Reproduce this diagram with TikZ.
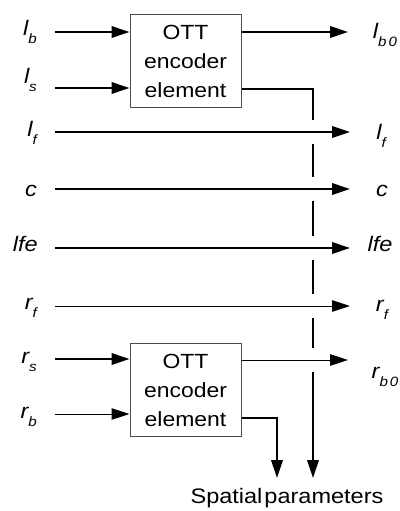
\documentclass[tikz,border=0pt]{standalone}
\usepackage{fontspec}
\setmainfont[FakeStretch=1.12]{Liberation Sans}
\usetikzlibrary{arrows.meta,calc}

% signal name with a lowered subscript
\newcommand{\sig}[2]{\textit{#1}\raisebox{-8pt}{\fontsize{13.5}{14}\selectfont\textit{#2}}}

\begin{document}
\begin{tikzpicture}[x=1pt,y=-1pt,
  sigfont/.style={font=\fontsize{21}{24}\selectfont\itshape, inner sep=0pt},
  leftlab/.style={sigfont, anchor=base east},
  rightlab/.style={sigfont, anchor=base},
  ottbox/.style={draw=black!70, line width=1pt, minimum width=111pt,
    minimum height=93pt, inner sep=0pt, align=center,
    font=\fontsize{20.5}{29}\selectfont},
  tip/.style={-{Triangle[length=18pt,width=11.5pt]}},
  heavy/.style={line width=2pt},
  light/.style={line width=1pt},
]
\useasboundingbox (0,0) rectangle (399,511);

% encoder elements
\node[ottbox] (ott1) at (185.5,61) {OTT\\encoder\\element};
\node[ottbox] (ott2) at (185.5,390) {OTT\\encoder\\element};

% input labels
\node[leftlab] (lb)  at (37,36)  {\sig{l}{b}};
\node[leftlab] (ls)  at (37,83)  {\sig{l}{s}};
\node[leftlab] (lf)  at (37,136) {\sig{l}{f}};
\node[leftlab] (c)   at (37,196) {c};
\node[leftlab] (lfe) at (38,251) {lfe};
\node[leftlab] (rf)  at (37,309) {\sig{r}{f}};
\node[leftlab] (rs)  at (37,363) {\sig{r}{s}};
\node[leftlab] (rb)  at (37,418) {\sig{r}{b}};

% output labels
\node[rightlab] (lbo)  at (385,39)  {\sig{l}{b\hspace{2pt}0}};
\node[rightlab] (lfo)  at (381,139) {\sig{l}{f}};
\node[rightlab] (co)   at (382,196) {c};
\node[rightlab] (lfeo) at (380,251) {lfe};
\node[rightlab] (rfo)  at (382,311) {\sig{r}{f}};
\node[rightlab] (rbo)  at (385,378) {\sig{r}{b\hspace{2pt}0}};

\node[font=\fontsize{21}{24}\selectfont, inner sep=0pt] (spat) at (287,498)
  {Spatial\hspace{2pt}parameters};

% line start and end points
\coordinate (lbS)  at (55,32);
\coordinate (lsS)  at (55,88);
\coordinate (lfS)  at (55,132);
\coordinate (cS)   at (55,189);
\coordinate (lfeS) at (55,248);
\coordinate (rfS)  at (55,306);
\coordinate (rsS)  at (55,359);
\coordinate (rbS)  at (55,414);
\coordinate (outE) at (350,0);
\coordinate (sp1)  at (313,478);
\coordinate (sp2)  at (277,478);
\coordinate (o1) at (ott1.east |- 0,89);
\coordinate (o2) at (ott2.east |- 0,418);

% spatial parameters of the upper element, broken where it crosses
\draw[heavy,tip] (o1) -- (sp1 |- o1) -- (sp1);
\foreach \yy in {132,189,248,306,360}
  \fill[white] (307,\yy-12) rectangle (319,\yy+12);

% spatial parameters of the lower element
\draw[heavy,tip] (o2) -- (sp2 |- o2) -- (sp2);

% inputs of the encoder elements
\draw[heavy,tip] (lbS) -- (lbS -| ott1.west);
\draw[heavy,tip] (lsS) -- (lsS -| ott1.west);
\draw[heavy,tip] (rsS) -- (rsS -| ott2.west);
\draw[light,tip] (rbS) -- (rbS -| ott2.west);

% downmix outputs
\draw[heavy,tip] (ott1.east |- lbS) -- ($(outE |- lbS)+(-2,0)$);
\draw[light,tip] (ott2.east |- 0,360) -- ($(outE |- 0,360)+(-2,0)$);

% channels passed through
\draw[heavy,tip] (lfS)  -- (outE |- lfS);
\draw[heavy,tip] (cS)   -- (outE |- cS);
\draw[heavy,tip] (lfeS) -- (outE |- lfeS);
\draw[light,tip] (rfS)  -- (outE |- rfS);
\end{tikzpicture}
\end{document}
